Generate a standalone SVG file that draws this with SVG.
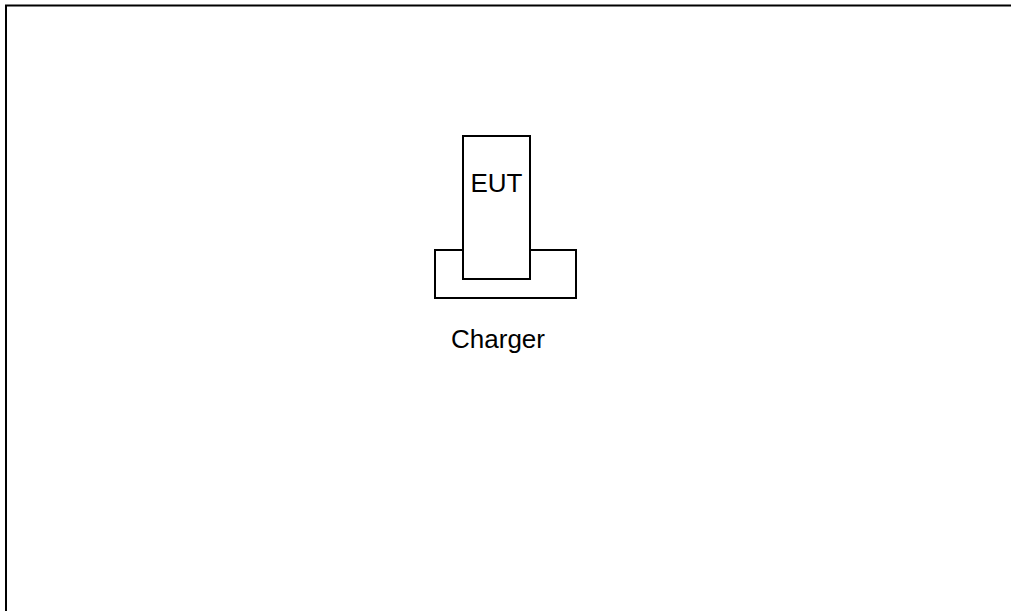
<svg xmlns="http://www.w3.org/2000/svg" width="1011" height="611" viewBox="0 0 1011 611">
<style>
.box{fill:#fff;stroke:#000;stroke-width:2}
.lbl{font-family:"Liberation Sans",Arial,sans-serif;font-size:26px;fill:#000;text-anchor:middle}
</style>
<rect width="1011" height="611" fill="#fff"/>
<path d="M6,612 V5.5 H1012" fill="none" stroke="#000" stroke-width="2"/>
<g id="charger">
<rect class="box" x="435" y="250" width="141" height="48"/>
<text class="lbl" x="498" y="348">Charger</text>
</g>
<g id="eut">
<rect class="box" x="463" y="136" width="67" height="143"/>
<text class="lbl" x="496.5" y="192">EUT</text>
</g>
<g id="connectors"></g>
</svg>
